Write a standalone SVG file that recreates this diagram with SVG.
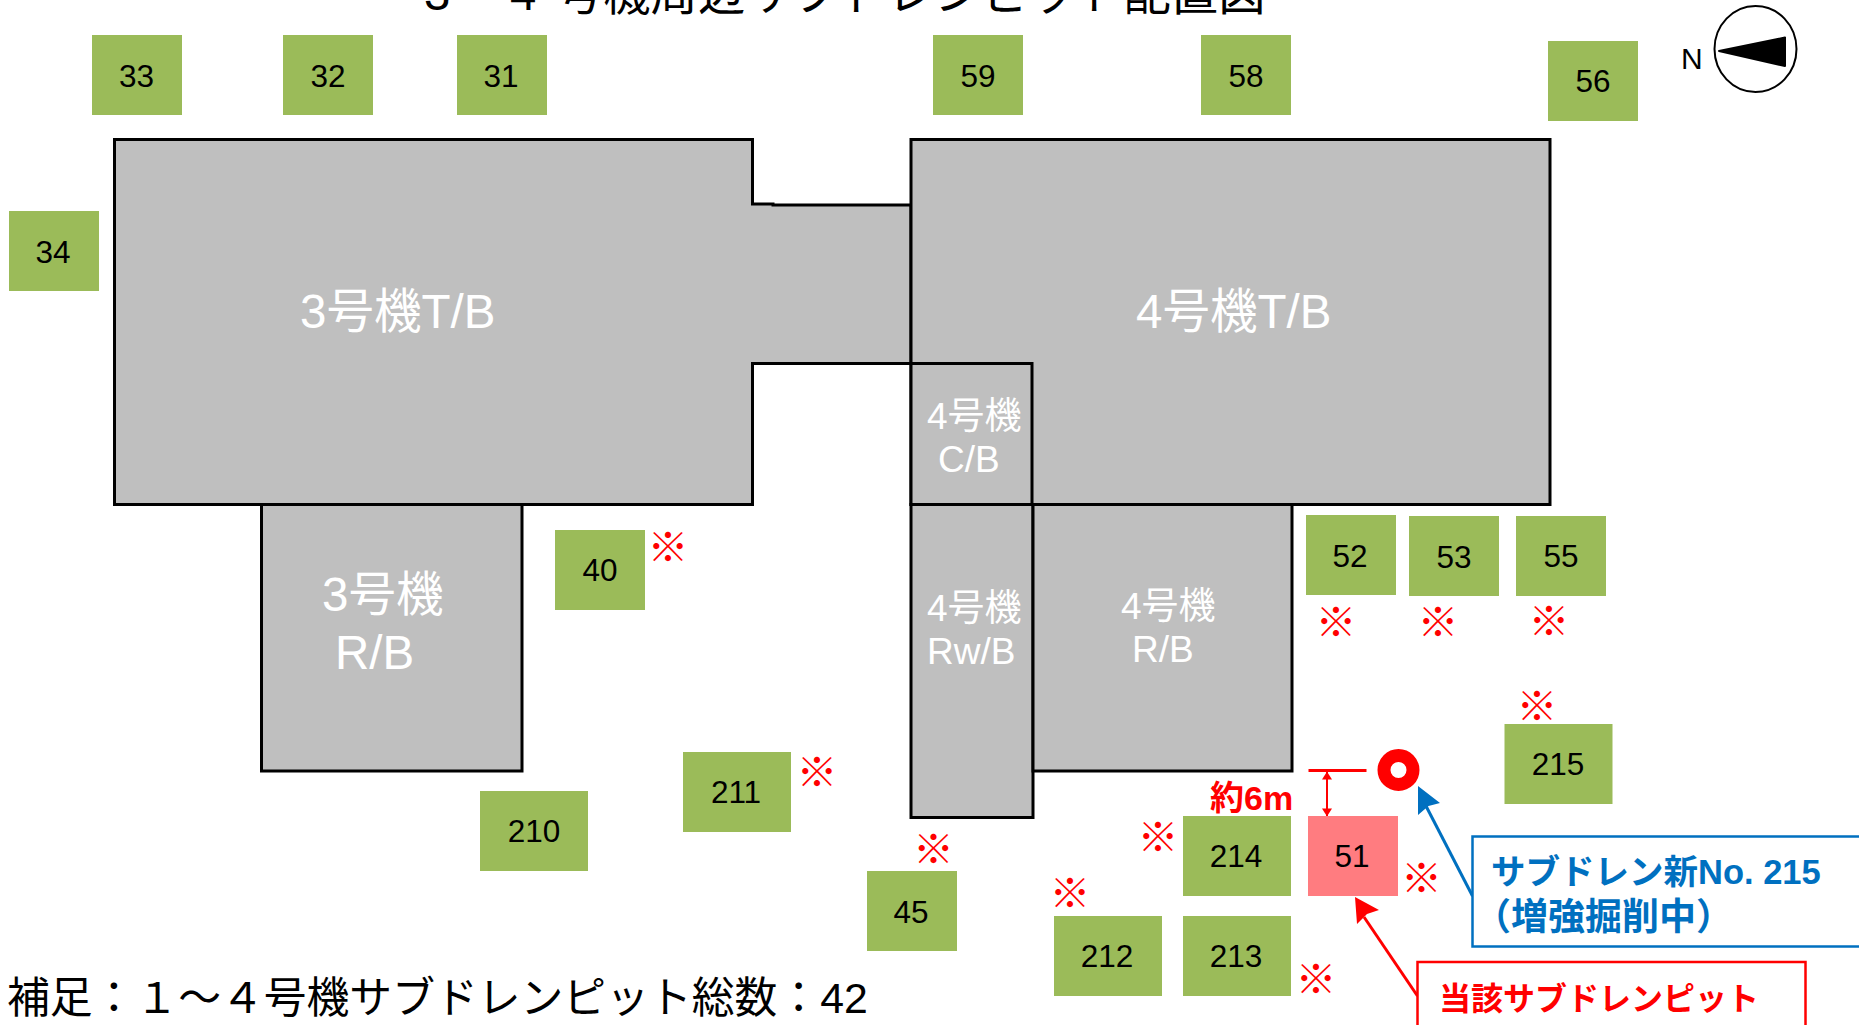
<svg xmlns="http://www.w3.org/2000/svg" width="1859" height="1025" viewBox="0 0 1859 1025">
<style>
text{font-family:"Liberation Sans","Noto Sans CJK JP",sans-serif}
.pit{fill:#9BBB59}
.hot{fill:#FF7C80}
.num{font-size:31.500px;fill:#000;text-anchor:middle}
.bld{fill:#BFBFBF;stroke:#000;stroke-width:3;stroke-linejoin:miter}
.lb{fill:#fff;font-size:47.500px}
.ls{fill:#fff;font-size:37px}
.mk{fill:#f00;font-size:41px;text-anchor:middle}
</style>
<defs>
<marker id="ar" viewBox="0 0 10 10" refX="9.500" refY="5" markerWidth="8" markerHeight="10" markerUnits="userSpaceOnUse" orient="auto-start-reverse" preserveAspectRatio="none"><path d="M0 0L10 5L0 10Z" fill="#f00"/></marker>
</defs>
<rect width="1859" height="1025" fill="#fff"/>
<text id="title" y="10" font-size="47.300"><tspan x="424">3</tspan><tspan x="466">・</tspan><tspan x="510">4</tspan><tspan x="556">号機周辺サブドレンピット配置図</tspan></text>
<g id="building-3tb"><path class="bld" d="M114.500 139.500H752.500V204H773V205H911V363.500H752.500V504.500H114.500Z"/><text class="lb" x="300" y="328">3号機T/B</text></g>
<g id="building-4tb"><path class="bld" d="M911 139.500H1550V504.500H911Z"/><text class="lb" x="1136" y="328">4号機T/B</text></g>
<g id="building-4cb"><path class="bld" d="M911 363.500H1032V504.500H911Z"/><text class="ls" x="927" y="429">4号機</text><text class="ls" x="938" y="472">C/B</text></g>
<g id="building-4rwb"><path class="bld" d="M911 504.500H1033V817.500H911Z"/><text class="ls" x="927" y="621">4号機</text><text class="ls" x="927" y="664">Rw/B</text></g>
<g id="building-4rb"><path class="bld" d="M1033 504.500H1292V771H1033Z"/><text class="ls" x="1121" y="619">4号機</text><text class="ls" x="1132" y="662">R/B</text></g>
<g id="building-3rb"><path class="bld" d="M261.500 504.500H522V771H261.500Z"/><text class="lb" x="322" y="611">3号機</text><text class="lb" x="335" y="669">R/B</text></g>
<g id="pit-33"><rect class="pit" x="92" y="35" width="90" height="80"/><text class="num" x="136.500" y="87">33</text></g>
<g id="pit-32"><rect class="pit" x="283" y="35" width="90" height="80"/><text class="num" x="328" y="87">32</text></g>
<g id="pit-31"><rect class="pit" x="457" y="35" width="90" height="80"/><text class="num" x="501" y="87">31</text></g>
<g id="pit-34"><rect class="pit" x="9" y="211" width="90" height="80"/><text class="num" x="53" y="263">34</text></g>
<g id="pit-59"><rect class="pit" x="933" y="35" width="90" height="80"/><text class="num" x="978" y="87">59</text></g>
<g id="pit-58"><rect class="pit" x="1201" y="35" width="90" height="80"/><text class="num" x="1246" y="87">58</text></g>
<g id="pit-56"><rect class="pit" x="1548" y="41" width="90" height="80"/><text class="num" x="1593" y="92">56</text></g>
<g id="pit-40"><rect class="pit" x="555" y="530" width="90" height="80"/><text class="num" x="600" y="581">40</text></g>
<g id="pit-211"><rect class="pit" x="683" y="752" width="108" height="80"/><text class="num" x="736" y="803">211</text></g>
<g id="pit-210"><rect class="pit" x="480" y="791" width="108" height="80"/><text class="num" x="534" y="842">210</text></g>
<g id="pit-45"><rect class="pit" x="867" y="871" width="90" height="80"/><text class="num" x="911" y="923">45</text></g>
<g id="pit-52"><rect class="pit" x="1306" y="515" width="90" height="80"/><text class="num" x="1350" y="567">52</text></g>
<g id="pit-53"><rect class="pit" x="1409" y="516" width="90" height="80"/><text class="num" x="1454" y="568">53</text></g>
<g id="pit-55"><rect class="pit" x="1516" y="516" width="90" height="80"/><text class="num" x="1561" y="567">55</text></g>
<g id="pit-215"><rect class="pit" x="1504.500" y="724" width="108" height="80"/><text class="num" x="1558" y="775">215</text></g>
<g id="pit-51"><rect class="hot" x="1308" y="816" width="90" height="80"/><text class="num" x="1352" y="867">51</text></g>
<g id="pit-214"><rect class="pit" x="1183" y="816" width="108" height="80"/><text class="num" x="1236" y="867">214</text></g>
<g id="pit-213"><rect class="pit" x="1183" y="916" width="108" height="80"/><text class="num" x="1236" y="967">213</text></g>
<g id="pit-212"><rect class="pit" x="1054" y="916" width="108" height="80"/><text class="num" x="1107" y="967">212</text></g>
<g id="marks">
<text class="mk" x="668" y="562">※</text>
<text class="mk" x="817" y="787">※</text>
<text class="mk" x="933.500" y="864">※</text>
<text class="mk" x="1336" y="637">※</text>
<text class="mk" x="1438" y="637">※</text>
<text class="mk" x="1549" y="636">※</text>
<text class="mk" x="1537" y="721">※</text>
<text class="mk" x="1158" y="852">※</text>
<text class="mk" x="1070" y="908">※</text>
<text class="mk" x="1421.500" y="893">※</text>
<text class="mk" x="1316" y="994">※</text>
</g>
<g id="north"><text x="1681" y="69" font-size="30" fill="#000">N</text><ellipse cx="1755.500" cy="49" rx="41" ry="43" fill="#fff" stroke="#000" stroke-width="2"/><path d="M1719 51L1785 37.500V66Z" fill="#000" stroke="#000" stroke-width="2" stroke-linejoin="round"/></g>
<g id="new-well"><circle cx="1398.500" cy="770" r="14.500" fill="none" stroke="#f00" stroke-width="13"/></g>
<g id="connectors" fill="none">
<path d="M1308.500 770.500H1366.500" stroke="#f00" stroke-width="3"/>
<path d="M1327 772V816" stroke="#f00" stroke-width="2" marker-start="url(#ar)" marker-end="url(#ar)"/>
<path d="M1472.500 896L1426 806" stroke="#0070C0" stroke-width="3"/>
<path d="M1418 786L1440 803L1428.500 806L1418 815Z" fill="#0070C0"/>
<path d="M1417.500 996L1364 917" stroke="#f00" stroke-width="3"/>
<path d="M1355 897L1379 910L1367 914L1357 924Z" fill="#f00"/>
</g>
<text id="distance" x="1210" y="810" font-size="34" font-weight="bold" fill="#f00">約6m</text>
<g id="note-blue"><rect x="1472.500" y="836.500" width="400" height="110" fill="#fff" stroke="#0070C0" stroke-width="2.500"/><text x="1491" y="884" font-size="34.500" font-weight="bold" fill="#0070C0">サブドレン新No. 215</text><text x="1474" y="930" font-size="37" font-weight="bold" fill="#0070C0">（増強掘削中）</text></g>
<g id="note-red"><rect x="1417.500" y="962" width="388" height="80" fill="#fff" stroke="#f00" stroke-width="2.500"/><text x="1439" y="1010" font-size="32" font-weight="bold" fill="#f00">当該サブドレンピット</text></g>
<text id="footnote" x="7" y="1013" font-size="42.800" fill="#000">補足：１～４号機サブドレンピット総数：42</text>
</svg>
